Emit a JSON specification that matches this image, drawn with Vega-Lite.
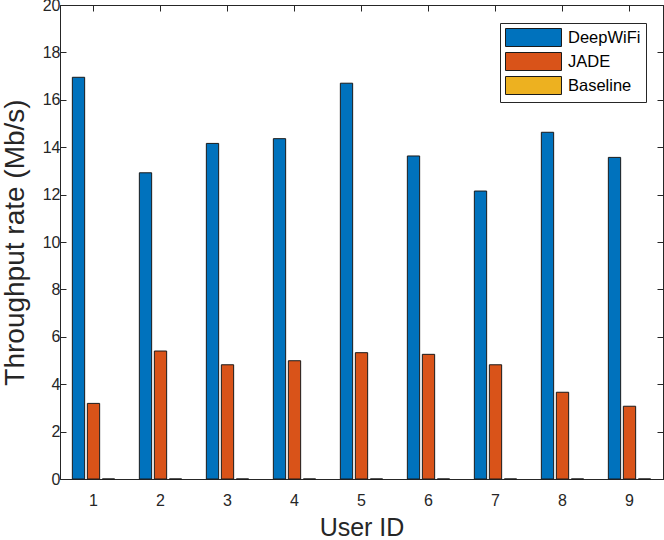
{
  "$schema": "https://vega.github.io/schema/vega-lite/v6.json",
  "description": "Throughput rate per user, grouped bars",
  "width": 603,
  "height": 474,
  "autosize": "none",
  "padding": {"left": 60, "top": 5, "right": 1, "bottom": 61},
  "background": "white",
  "data": {
    "values": [
      {"user": 1, "method": "DeepWiFi", "rate": 16.95},
      {"user": 1, "method": "JADE", "rate": 3.19},
      {"user": 1, "method": "Baseline", "rate": 0},
      {"user": 2, "method": "DeepWiFi", "rate": 12.92},
      {"user": 2, "method": "JADE", "rate": 5.4},
      {"user": 2, "method": "Baseline", "rate": 0},
      {"user": 3, "method": "DeepWiFi", "rate": 14.16},
      {"user": 3, "method": "JADE", "rate": 4.82},
      {"user": 3, "method": "Baseline", "rate": 0},
      {"user": 4, "method": "DeepWiFi", "rate": 14.36},
      {"user": 4, "method": "JADE", "rate": 4.99},
      {"user": 4, "method": "Baseline", "rate": 0},
      {"user": 5, "method": "DeepWiFi", "rate": 16.7},
      {"user": 5, "method": "JADE", "rate": 5.33},
      {"user": 5, "method": "Baseline", "rate": 0},
      {"user": 6, "method": "DeepWiFi", "rate": 13.63},
      {"user": 6, "method": "JADE", "rate": 5.26},
      {"user": 6, "method": "Baseline", "rate": 0},
      {"user": 7, "method": "DeepWiFi", "rate": 12.15},
      {"user": 7, "method": "JADE", "rate": 4.82},
      {"user": 7, "method": "Baseline", "rate": 0},
      {"user": 8, "method": "DeepWiFi", "rate": 14.63},
      {"user": 8, "method": "JADE", "rate": 3.66},
      {"user": 8, "method": "Baseline", "rate": 0},
      {"user": 9, "method": "DeepWiFi", "rate": 13.57},
      {"user": 9, "method": "JADE", "rate": 3.07},
      {"user": 9, "method": "Baseline", "rate": 0}
    ]
  },
  "layer": [
    {
      "mark": {"type": "bar", "stroke": "#1a1a1a", "strokeWidth": 1},
      "encoding": {
        "x": {
          "field": "user",
          "type": "ordinal",
          "scale": {"paddingInner": 0, "paddingOuter": 0},
          "axis": {
            "title": "User ID",
            "labelAngle": 0,
            "tickSize": -6,
            "labelPadding": 19,
            "titlePadding": 7,
            "titleFontSize": 25
          }
        },
        "xOffset": {
          "field": "method",
          "sort": ["DeepWiFi", "JADE", "Baseline"],
          "scale": {"paddingInner": 0.18, "paddingOuter": 0.823}
        },
        "y": {
          "field": "rate",
          "type": "quantitative",
          "scale": {"domain": [0, 20], "nice": false},
          "axis": {
            "title": "Throughput rate (Mb/s)",
            "values": [0, 2, 4, 6, 8, 10, 12, 14, 16, 18, 20],
            "tickSize": -6,
            "labelPadding": 6,
            "titlePadding": 13,
            "titleFontSize": 28
          }
        },
        "color": {
          "field": "method",
          "type": "nominal",
          "sort": ["DeepWiFi", "JADE", "Baseline"],
          "scale": {
            "domain": ["DeepWiFi", "JADE", "Baseline"],
            "range": ["#0072BD", "#D95319", "#EDB120"]
          },
          "legend": {
            "title": null,
            "orient": "none",
            "legendX": 440,
            "legendY": 18,
            "padding": 5,
            "rowPadding": 1,
            "fillColor": "white",
            "strokeColor": "#262626",
            "symbolType": "M-3.11,-1H3.11V1H-3.11Z",
            "symbolSize": 324,
            "symbolOffset": 19,
            "symbolStrokeColor": "#1a1a1a",
            "symbolStrokeWidth": 1,
            "symbolOpacity": 1,
            "labelOffset": 25,
            "labelFontSize": 16.5,
            "labelColor": "#000000",
            "labelFont": "Liberation Sans"
          }
        }
      }
    },
    {
      "mark": {"type": "bar", "opacity": 0},
      "encoding": {
        "x": {
          "field": "user",
          "type": "ordinal",
          "axis": {"orient": "top", "labels": false, "title": null, "tickSize": -6}
        },
        "y": {
          "field": "rate",
          "type": "quantitative",
          "axis": {
            "orient": "right",
            "labels": false,
            "title": null,
            "tickSize": -6,
            "values": [0, 2, 4, 6, 8, 10, 12, 14, 16, 18, 20]
          }
        }
      }
    }
  ],
  "resolve": {"axis": {"x": "independent", "y": "independent"}},
  "config": {
    "view": {"stroke": "#262626", "strokeWidth": 1},
    "axis": {
      "grid": false,
      "domainColor": "#262626",
      "tickColor": "#262626",
      "labelColor": "#262626",
      "titleColor": "#262626",
      "labelFont": "Liberation Sans",
      "titleFont": "Liberation Sans",
      "labelFontSize": 16,
      "titleFontWeight": "normal"
    }
  }
}
